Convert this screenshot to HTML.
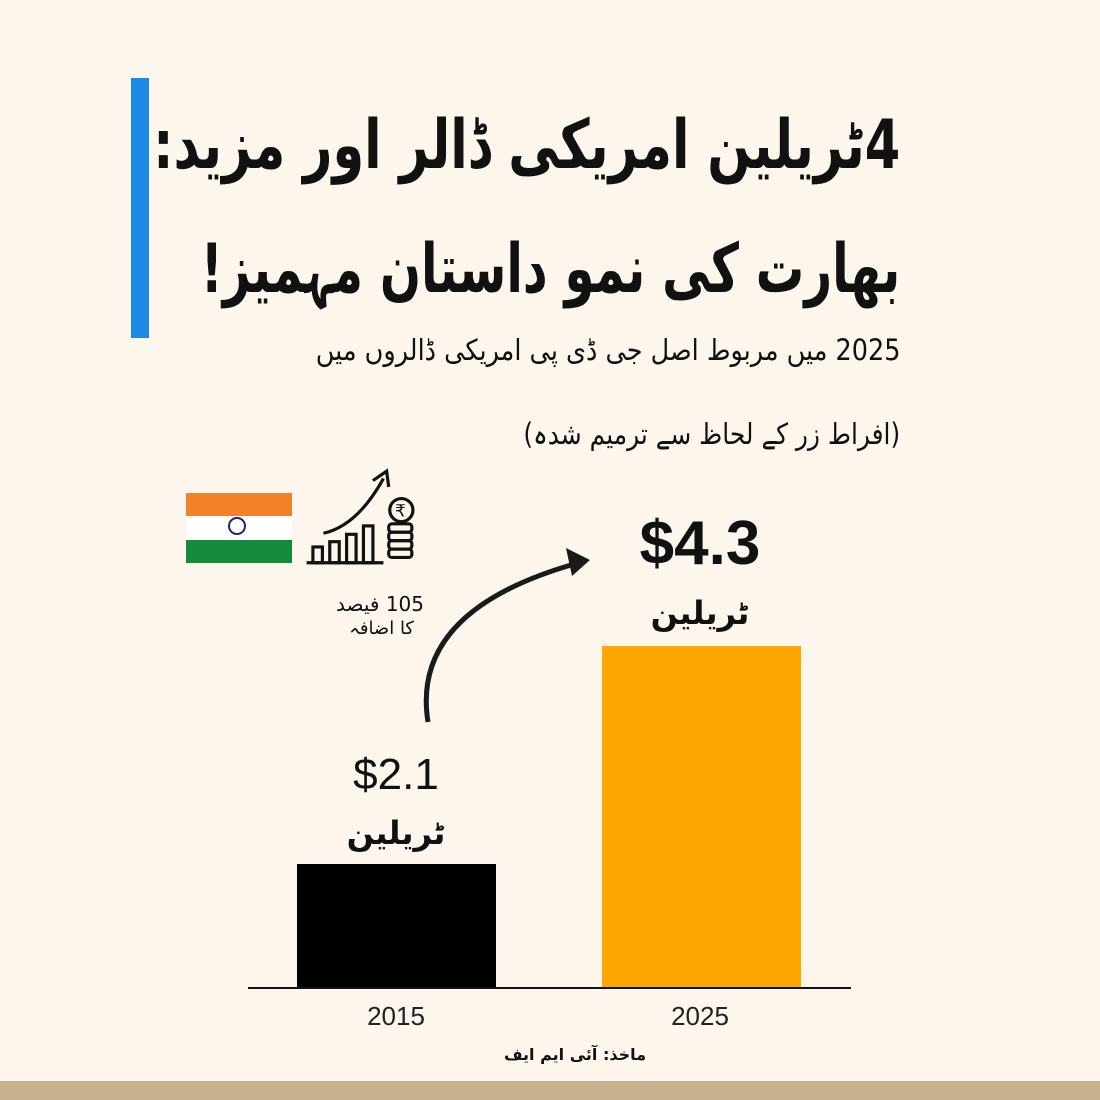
<!DOCTYPE html>
<html><head><meta charset="utf-8"><style>
body{margin:0;width:1100px;height:1100px;background:#fdf6ec;position:relative;overflow:hidden;font-family:"Liberation Sans","DejaVu Sans",sans-serif}
.a{position:absolute}
.ur{font-family:"DejaVu Sans",sans-serif;direction:rtl;white-space:nowrap}
.sq{transform-origin:right center}
</style></head><body>
<div class="a" style="left:131px;top:78px;width:18px;height:260px;background:#1e88e5"></div>
<div class="a ur sq" style="right:200px;top:112px;font-size:68px;font-weight:bold;color:#111;line-height:1;transform:scaleX(0.75)">4ٹریلین امریکی ڈالر اور مزید:</div>
<div class="a ur sq" style="right:200px;top:236px;font-size:68px;font-weight:bold;color:#111;line-height:1;transform:scaleX(0.71)">بھارت کی نمو داستان مہمیز!</div>
<div class="a ur sq" style="right:200px;top:336px;font-size:29px;color:#111;line-height:1;transform:scaleX(0.88)">2025 میں مربوط اصل جی ڈی پی امریکی ڈالروں میں</div>
<div class="a ur sq" style="right:200px;top:420px;font-size:29px;color:#111;line-height:1;transform:scaleX(0.86)">(افراط زر کے لحاظ سے ترمیم شدہ)</div>
<!-- flag -->
<div class="a" style="left:186px;top:493px;width:106px;height:23px;background:#f4812a"></div>
<div class="a" style="left:186px;top:516px;width:106px;height:24px;background:#fff"></div>
<div class="a" style="left:186px;top:540px;width:106px;height:23px;background:#148a3b"></div>
<div class="a" style="left:228px;top:517px;width:18px;height:18px;border:2px solid #1a237e;border-radius:50%;box-sizing:border-box"></div>
<!-- icon -->
<svg class="a" style="left:292px;top:468px" width="125" height="100" viewBox="0 0 115 95" fill="none" stroke="#111" stroke-width="3">
<line x1="12" y1="90" x2="85" y2="90"/>
<rect x="18" y="75" width="9" height="15"/><rect x="34" y="70" width="9" height="20"/><rect x="50" y="63" width="9" height="27"/><rect x="66" y="55" width="9" height="35"/>
<path d="M28 62 Q60 55 85 10"/><path d="M75 12 L88 3 L90 18"/>
<circle cx="102" cy="40" r="11"/><text x="96" y="46" font-size="16" fill="#111" stroke="none">₹</text>
<rect x="90" y="53" width="22" height="8" rx="3"/><rect x="90" y="61" width="22" height="8" rx="3"/><rect x="90" y="69" width="22" height="8" rx="3"/><rect x="90" y="77" width="22" height="8" rx="3"/>
</svg>
<div class="a ur" style="right:676px;top:592px;font-size:20px;color:#111">105 فیصد</div>
<div class="a ur" style="right:686px;top:618px;font-size:18px;color:#111">کا اضافہ</div>
<!-- arrow -->
<svg class="a" style="left:0;top:0" width="1100" height="1100">
<path d="M428 722 Q410 610 578 563" fill="none" stroke="#1a1a1a" stroke-width="5"/>
<path d="M590 560 L566 548 L572 576 Z" fill="#1a1a1a"/>
</svg>
<!-- bars -->
<div class="a" style="left:297px;top:864px;width:199px;height:124px;background:#000"></div>
<div class="a" style="left:602px;top:646px;width:199px;height:342px;background:#ffa600"></div>
<div class="a" style="left:248px;top:987px;width:603px;height:2px;background:#111"></div>
<div class="a" style="left:296px;width:200px;text-align:center;top:1001px;font-size:26px;color:#222">2015</div>
<div class="a" style="left:600px;width:200px;text-align:center;top:1001px;font-size:26px;color:#222">2025</div>
<div class="a" style="left:550px;width:300px;text-align:center;top:508px;font-size:62px;font-weight:bold;color:#111">$4.3</div>
<div class="a ur" style="left:550px;width:300px;text-align:center;top:594px;font-size:32px;font-weight:bold;color:#111">ٹریلین</div>
<div class="a" style="left:246px;width:300px;text-align:center;top:750px;font-size:44px;color:#111">$2.1</div>
<div class="a ur" style="left:246px;width:300px;text-align:center;top:814px;font-size:32px;font-weight:bold;color:#111">ٹریلین</div>
<div class="a ur" style="left:425px;width:300px;text-align:center;top:1045px;font-size:16px;font-weight:bold;color:#111">ماخذ: آئی ایم ایف</div>
<div class="a" style="left:0;top:1081px;width:1100px;height:19px;background:#c8b08f"></div>
</body></html>
